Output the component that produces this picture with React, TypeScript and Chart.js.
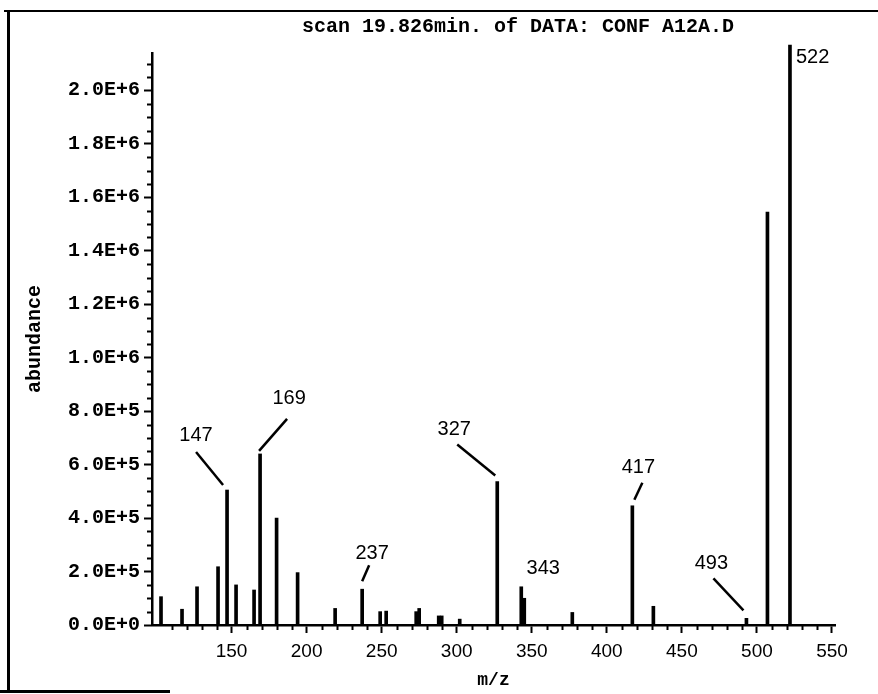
import React, { useEffect, useRef } from 'react';
import { Chart, registerables } from 'chart.js';

Chart.register(...registerables);

// ---- data ----
const TITLE = 'scan 19.826min. of DATA: CONF A12A.D';
const X_TITLE = 'm/z';
const Y_TITLE = 'abundance';

const mz = [103, 117, 127, 141, 147, 153, 165, 169, 180, 194, 219, 237, 249, 253, 273, 275, 288, 290, 302, 327, 343, 345, 377, 417, 431, 493, 507, 522];
const abundance = [106000, 59000, 143000, 218000, 505000, 150000, 131000, 640000, 400000, 196000, 62000, 134000, 50000, 52000, 50000, 62000, 34000, 34000, 22000, 537000, 143000, 100000, 47000, 446000, 70000, 25000, 1545000, 2170000];

const xTicks = [150, 200, 250, 300, 350, 400, 450, 500, 550];
const xTickLabels = ['150', '200', '250', '300', '350', '400', '450', '500', '550'];
const yTicks = [0, 200000, 400000, 600000, 800000, 1000000, 1200000, 1400000, 1600000, 1800000, 2000000];
const yTickLabels = ['0.0E+0', '2.0E+5', '4.0E+5', '6.0E+5', '8.0E+5', '1.0E+6', '1.2E+6', '1.4E+6', '1.6E+6', '1.8E+6', '2.0E+6'];

const labeledPeaks = [147, 169, 237, 327, 343, 417, 493, 522];
const peakLabels = ['147', '169', '237', '327', '343', '417', '493', '522'];

// ---- layout / style (offsets from bar top, pixels) ----
const X_MIN = 97;
const X_MAX = 552;
const Y_MAX = 2140000;
const X_MINOR = 10;
const Y_MINOR = 50000;
// [labelDx, labelDy, lineX1, lineY1, lineX2, lineY2, align]
const labelLayout: [number, number, number, number, number, number, string][] = [
  [-31, -55, -4, -5, -31, -38, 'center'],
  [29, -55, -1, -3, 27, -35, 'center'],
  [10, -36, 0, -8, 7, -24, 'center'],
  [-43, -52, -2, -6, -40, -37, 'center'],
  [22, -18, 0, 0, 0, 0, 'center'],
  [6, -38, 2, -6, 10, -23, 'center'],
  [-35, -55, -3, -8, -33, -40, 'center'],
  [6, 13, 0, 0, 0, 0, 'left'],
];

const decorPlugin = {
  id: 'decor',
  afterDatasetsDraw(chart: any) {
    const ctx = chart.ctx as CanvasRenderingContext2D;
    const xs = chart.scales.x;
    const ys = chart.scales.y;
    const area = chart.chartArea;
    ctx.save();
    ctx.strokeStyle = '#000';
    ctx.fillStyle = '#000';
    // minor ticks
    ctx.lineWidth = 2;
    for (let i = 1; i * Y_MINOR <= Y_MAX; i++) {
      if (i % 4 === 0) continue;
      const py = Math.round(ys.getPixelForValue(i * Y_MINOR)) + 0.5;
      ctx.beginPath();
      ctx.moveTo(area.left - 5, py);
      ctx.lineTo(area.left, py);
      ctx.stroke();
    }
    for (let v = 100; v <= X_MAX; v += X_MINOR) {
      if (v % 50 === 0) continue;
      const px = Math.round(xs.getPixelForValue(v)) + 0.5;
      ctx.beginPath();
      ctx.moveTo(px, area.bottom);
      ctx.lineTo(px, area.bottom + 5);
      ctx.stroke();
    }
    // peak labels
    ctx.lineWidth = 2.5;
    ctx.font = '20px "Liberation Sans", Arial, sans-serif';
    ctx.textBaseline = 'middle';
    labeledPeaks.forEach((m, i) => {
      const idx = mz.indexOf(m);
      const bx = xs.getPixelForValue(m);
      const by = ys.getPixelForValue(abundance[idx]);
      const [dx, dy, x1, y1, x2, y2, align] = labelLayout[i];
      if (x1 !== x2 || y1 !== y2) {
        ctx.beginPath();
        ctx.moveTo(bx + x1, by + y1);
        ctx.lineTo(bx + x2, by + y2);
        ctx.stroke();
      }
      ctx.textAlign = align as CanvasTextAlign;
      ctx.fillText(peakLabels[i], bx + dx, by + dy);
    });
    // main title
    ctx.font = 'bold 20px "Liberation Mono", "DejaVu Sans Mono", monospace';
    ctx.textAlign = 'center';
    ctx.fillText(TITLE, 518, 27);
    ctx.restore();
  },
};

export default function App() {
  const ref = useRef<HTMLCanvasElement | null>(null);
  useEffect(() => {
    document.body.style.margin = '0';
    const canvas = ref.current;
    if (!canvas) return;
    const chart = new Chart(canvas, {
      type: 'bar',
      data: {
        datasets: [
          {
            data: mz.map((m, i) => ({ x: m, y: abundance[i] })),
            backgroundColor: '#000',
            borderWidth: 0,
            barThickness: 3,
            clip: false as any,
          },
        ],
      },
      options: {
        animation: false,
        responsive: false,
        layout: { padding: { top: 53, right: 43, left: 0, bottom: 0 } },
        plugins: { legend: { display: false }, tooltip: { enabled: false }, title: { display: false } },
        scales: {
          x: {
            type: 'linear',
            min: X_MIN,
            max: X_MAX,
            offset: false,
            grid: { display: true, drawOnChartArea: false, offset: false, tickLength: 8, tickWidth: 2, tickColor: '#000' },
            border: { display: true, color: '#000', width: 2.5 },
            afterBuildTicks: (scale: any) => {
              scale.ticks = xTicks.map((v) => ({ value: v }));
            },
            afterFit: (scale: any) => {
              scale.height = 69;
            },
            ticks: {
              autoSkip: false,
              maxRotation: 0,
              padding: 7,
              color: '#000',
              font: { family: '"Liberation Sans", Arial, sans-serif', size: 19 },
              callback: (v: any) => {
                const i = xTicks.indexOf(Number(v));
                return i >= 0 ? xTickLabels[i] : '';
              },
            },
            title: {
              display: true,
              text: X_TITLE,
              color: '#000',
              font: { family: '"Liberation Mono", monospace', size: 18, weight: 'bold' },
              padding: { top: 0, bottom: 3 },
            },
          },
          y: {
            min: 0,
            max: Y_MAX,
            grid: { display: true, drawOnChartArea: false, tickLength: 8, tickWidth: 2, tickColor: '#000' },
            border: { display: true, color: '#000', width: 2.5 },
            afterBuildTicks: (scale: any) => {
              scale.ticks = yTicks.map((v) => ({ value: v }));
            },
            afterFit: (scale: any) => {
              scale.width = 152;
            },
            ticks: {
              autoSkip: false,
              padding: 4,
              color: '#000',
              font: { family: '"Liberation Mono", "DejaVu Sans Mono", monospace', size: 20, weight: 'bold' },
              callback: (v: any) => {
                const i = yTicks.indexOf(Number(v));
                return i >= 0 ? yTickLabels[i] : '';
              },
            },
            title: {
              display: true,
              text: Y_TITLE,
              color: '#000',
              font: { family: '"Liberation Mono", monospace', size: 20, weight: 'bold' },
              padding: { top: 23, bottom: 0 },
            },
          },
        },
      },
      plugins: [decorPlugin],
    });
    return () => chart.destroy();
  }, []);

  return (
    <div style={{ position: 'absolute', left: 0, top: 0, width: 878, height: 694, background: '#fff' }}>
      <canvas ref={ref} width={878} height={694} style={{ position: 'absolute', left: 0, top: 0 }} />
      <div style={{ position: 'absolute', left: 4, top: 10, width: 874, height: 2, background: '#000' }} />
      <div style={{ position: 'absolute', left: 7, top: 10, width: 3, height: 682, background: '#000' }} />
      <div style={{ position: 'absolute', left: 0, top: 690, width: 170, height: 3, background: '#000' }} />
    </div>
  );
}
